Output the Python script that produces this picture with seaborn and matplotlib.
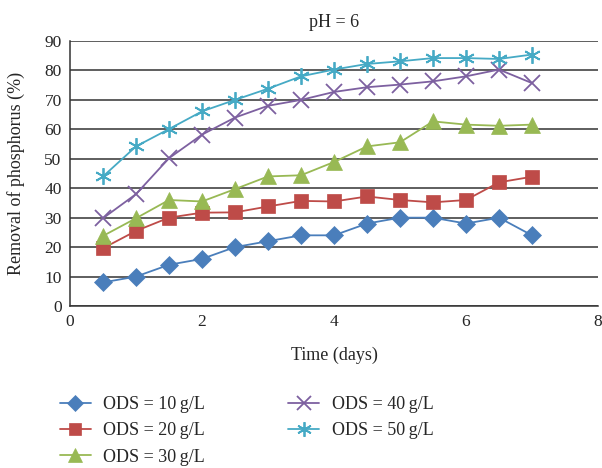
import matplotlib
matplotlib.use("Agg")
import matplotlib.pyplot as plt
import seaborn as sns
import pandas as pd
from matplotlib.lines import Line2D

days = [0.5, 1, 1.5, 2, 2.5, 3, 3.5, 4, 4.5, 5, 5.5, 6, 6.5, 7]
ods10 = [8, 10, 14, 16, 20, 22, 24, 24, 28, 30, 30, 28, 30, 24]
ods20 = [19.6, 25.5, 30, 31.7, 31.8, 33.8, 35.7, 35.5, 37.2, 36, 35.2, 36, 42, 43.9]
ods30 = [23.8, 29.8, 36, 35.5, 39.7, 44, 44.4, 48.9, 54.2, 55.6, 62.7, 61.6, 61.2, 61.6]
ods40 = [29.8, 38, 50.2, 58.2, 64, 68, 70, 72.7, 74.3, 75.2, 76.3, 78, 80.3, 75.7]
ods50 = [44, 54.2, 60.1, 66.1, 70, 73.8, 78, 80.3, 82.2, 83.1, 84.2, 84.2, 83.9, 85.4]
labels = ["ODS = 10\u2009g/L", "ODS = 20\u2009g/L", "ODS = 30\u2009g/L",
          "ODS = 40\u2009g/L", "ODS = 50\u2009g/L"]
series = [ods10, ods20, ods30, ods40, ods50]

colors = ["#4A7EBB", "#BE4B48", "#98B954", "#7D60A0", "#46AAC5"]
markers = ["D", "s", "^", "x", (6, 2, 0)]
msizes = [9, 10, 11, 11, 12]

rows = []
for lab, vals in zip(labels, series):
    for d, v in zip(days, vals):
        rows.append({"day": d, "val": v, "series": lab})
df = pd.DataFrame(rows)

sns.set_style("white")
plt.rcParams["font.family"] = ["Liberation Serif", "DejaVu Serif"]
plt.rcParams["font.size"] = 12

fig = plt.figure(figsize=(6.02, 4.68), dpi=100)
ax = fig.add_axes([70/602, (468-306)/468, 528/602, 265/468])

handles = []
for lab, c, m, ms in zip(labels, colors, markers, msizes):
    sub = df[df["series"] == lab]
    mew = 1.3 if (m == "x" or isinstance(m, tuple)) else 0.5
    sns.lineplot(data=sub, x="day", y="val", ax=ax, color=c, lw=1.3,
                 marker=m, markersize=ms, markeredgecolor=c,
                 markeredgewidth=mew, legend=False)
    handles.append(Line2D([0], [0], color=c, lw=1.3, marker=m, markersize=ms * 0.88,
                          markeredgecolor=c, markeredgewidth=mew, label=lab))

ax.set_xlim(0, 8)
ax.set_ylim(0, 90)
ax.set_xticks(range(0, 9, 2))
ax.set_yticks(range(0, 91, 10))
ax.yaxis.grid(True, color="#333333", lw=1.1)
ax.xaxis.grid(False)
ax.set_axisbelow(True)
for s in ["top", "right"]:
    ax.spines[s].set_visible(False)
for s in ["left", "bottom"]:
    ax.spines[s].set_color("#333333")
    ax.spines[s].set_linewidth(1.1)
ax.tick_params(axis="both", labelsize=12.5, length=0, pad=6)
ax.set_xlabel("Time (days)", fontsize=13, labelpad=12)
ax.set_ylabel("Removal of phosphorus (%)", fontsize=13, labelpad=14)
ax.set_title("pH = 6", fontsize=13, pad=10)

fig.legend(handles=handles, loc="upper left", bbox_to_anchor=(60/602, 1 - 396/468),
           ncol=2, frameon=False, fontsize=13, handlelength=1.7,
           columnspacing=4.6, labelspacing=0.52, handletextpad=0.7,
           borderpad=0, borderaxespad=0)

fig.savefig("out.png", dpi=100)
